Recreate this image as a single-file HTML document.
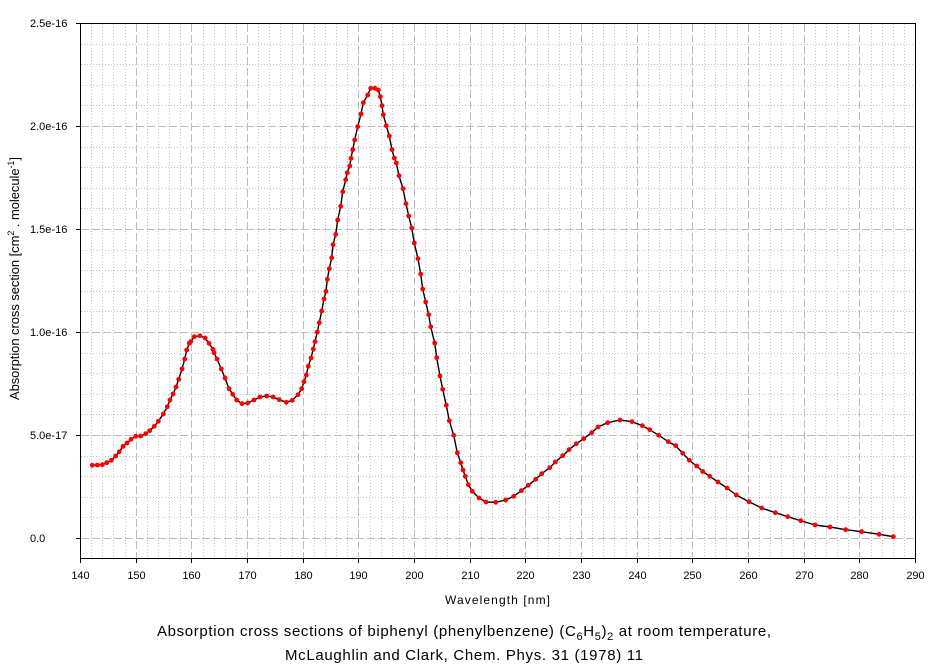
<!DOCTYPE html>
<html>
<head>
<meta charset="utf-8">
<style>
html,body{margin:0;padding:0;background:#fff;}
svg{display:block;}
text{font-family:"Liberation Sans",Arial,sans-serif;fill:#000;}
</style>
</head>
<body>
<svg width="939" height="665" viewBox="0 0 939 665" xmlns="http://www.w3.org/2000/svg">
<defs>
<marker id="dot" markerUnits="userSpaceOnUse" markerWidth="8" markerHeight="8" refX="4" refY="4">
<circle cx="4" cy="4" r="2.4" fill="#ff0000"/>
</marker>
</defs>
<rect width="939" height="665" fill="#fff"/>

<!-- minor grid -->
<g stroke="#c4c4c4" stroke-width="1" stroke-dasharray="1,2" fill="none" shape-rendering="crispEdges">
<path d="M91.5 24V558 M102.5 24V558 M113.5 24V558 M125.5 24V558 M147.5 24V558 M158.5 24V558 M169.5 24V558 M180.5 24V558 M203.5 24V558 M214.5 24V558 M225.5 24V558 M236.5 24V558 M258.5 24V558 M269.5 24V558 M280.5 24V558 M292.5 24V558 M314.5 24V558 M325.5 24V558 M336.5 24V558 M347.5 24V558 M370.5 24V558 M381.5 24V558 M392.5 24V558 M403.5 24V558 M425.5 24V558 M436.5 24V558 M447.5 24V558 M459.5 24V558 M481.5 24V558 M492.5 24V558 M503.5 24V558 M514.5 24V558 M537.5 24V558 M548.5 24V558 M559.5 24V558 M570.5 24V558 M592.5 24V558 M603.5 24V558 M614.5 24V558 M626.5 24V558 M648.5 24V558 M659.5 24V558 M670.5 24V558 M681.5 24V558 M704.5 24V558 M715.5 24V558 M726.5 24V558 M737.5 24V558 M759.5 24V558 M770.5 24V558 M781.5 24V558 M793.5 24V558 M815.5 24V558 M826.5 24V558 M837.5 24V558 M848.5 24V558 M871.5 24V558 M882.5 24V558 M893.5 24V558 M904.5 24V558"/>
<path d="M81 517.5H915 M81 497.5H915 M81 476.5H915 M81 456.5H915 M81 414.5H915 M81 394.5H915 M81 373.5H915 M81 353.5H915 M81 311.5H915 M81 291.5H915 M81 270.5H915 M81 250.5H915 M81 208.5H915 M81 188.5H915 M81 167.5H915 M81 147.5H915 M81 105.5H915 M81 85.5H915 M81 64.5H915 M81 44.5H915"/>
</g>
<!-- major grid -->
<g stroke="#bcbcbc" stroke-width="1" stroke-dasharray="8,3" fill="none" shape-rendering="crispEdges">
<path d="M136.5 24V558 M191.5 24V558 M247.5 24V558 M303.5 24V558 M358.5 24V558 M414.5 24V558 M470.5 24V558 M525.5 24V558 M581.5 24V558 M637.5 24V558 M692.5 24V558 M748.5 24V558 M804.5 24V558 M859.5 24V558"/>
<path d="M81 538.5H915 M81 435.5H915 M81 332.5H915 M81 229.5H915 M81 126.5H915"/>
</g>

<!-- axes box -->
<g stroke="#000" stroke-width="1" fill="none" shape-rendering="crispEdges">
<rect x="80.5" y="23.5" width="835" height="535"/>
<path d="M76 538.5H80 M76 435.5H80 M76 332.5H80 M76 229.5H80 M76 126.5H80 M76 23.5H80"/>
<path d="M80.5 559V563 M136.5 559V563 M191.5 559V563 M247.5 559V563 M303.5 559V563 M358.5 559V563 M414.5 559V563 M470.5 559V563 M525.5 559V563 M581.5 559V563 M637.5 559V563 M692.5 559V563 M748.5 559V563 M804.5 559V563 M859.5 559V563 M915.5 559V563"/>
</g>

<!-- y tick labels -->
<g font-size="11">
<text x="30" y="542">0.0</text>
<text x="30" y="439">5.0e-17</text>
<text x="30" y="336">1.0e-16</text>
<text x="30" y="233">1.5e-16</text>
<text x="30" y="130">2.0e-16</text>
<text x="30" y="27">2.5e-16</text>
</g>
<!-- x tick labels -->
<g font-size="11" text-anchor="middle">
<text x="80.5" y="579">140</text>
<text x="136.5" y="579">150</text>
<text x="191.5" y="579">160</text>
<text x="247.5" y="579">170</text>
<text x="303.5" y="579">180</text>
<text x="358.5" y="579">190</text>
<text x="414.5" y="579">200</text>
<text x="470.5" y="579">210</text>
<text x="525.5" y="579">220</text>
<text x="581.5" y="579">230</text>
<text x="637.5" y="579">240</text>
<text x="692.5" y="579">250</text>
<text x="748.5" y="579">260</text>
<text x="804.5" y="579">270</text>
<text x="859.5" y="579">280</text>
<text x="915.5" y="579">290</text>
</g>

<!-- axis titles -->
<text x="445" y="604" font-size="12" textLength="105" lengthAdjust="spacing">Wavelength [nm]</text>
<text transform="translate(19,400) rotate(-90)" x="0" y="0" font-size="13" textLength="243" lengthAdjust="spacing">Absorption cross section [cm<tspan font-size="9" dy="-5">2</tspan><tspan dy="5"> . molecule</tspan><tspan font-size="9" dy="-5">-1</tspan><tspan dy="5">]</tspan></text>

<!-- chart title -->
<text x="157" y="636" font-size="15" textLength="614" lengthAdjust="spacing">Absorption cross sections of biphenyl (phenylbenzene) (C<tspan font-size="11" dy="4">6</tspan><tspan dy="-4">H</tspan><tspan font-size="11" dy="4">5</tspan><tspan dy="-4">)</tspan><tspan font-size="11" dy="4">2</tspan><tspan dy="-4"> at room temperature,</tspan></text>
<text x="285" y="660" font-size="15" textLength="358" lengthAdjust="spacing">McLaughlin and Clark, Chem. Phys. 31 (1978) 11</text>

<!-- data series -->
<polyline fill="none" stroke="#000" stroke-width="1.4" stroke-linejoin="round"
marker-start="url(#dot)" marker-mid="url(#dot)" marker-end="url(#dot)"
points="92.3,465.3 97.3,465 102.3,464.7 106.7,462.7 111.3,460.3 115.7,456 119.3,451.7 123,446.3 127,443 131,439.3 135.7,436.3 140.7,436 145.7,433.7 149.7,430.7 154.3,426.3 158.3,421.3 163.3,414 167.3,406.7 170,400 173,394 176,387 178.7,379.3 182,369 184.7,359 186.7,350 189.3,343.3 190.7,341.7 194.3,336.7 200,335.7 205,338 209,343.3 213,349.3 214,352.7 217,359 221.3,369 225,378 229,388.7 232.7,394.3 236.7,400 242,403.7 247.7,403 254,400 260,397 266.7,396 273,397 279.3,399.7 286.3,402.3 292.3,400.3 298,394.7 301.7,388.7 304,381.7 306.3,375 308.3,366.3 311,358 313.3,349 315,341.7 317.3,332 319.3,322.7 321.7,311 324,299 326,291.3 327.3,279.3 329.3,268.7 331.7,257.7 333,244.7 335.7,234.3 337.7,220 340.7,206.3 342.7,191.7 345.7,179.7 347.3,172.7 349.7,166 351,158.3 352.7,149.7 354.7,140 357.7,126.7 361,114 363.3,102.7 367.7,95 370.7,88.3 375,88.3 378.3,90 380.3,96.7 382,105.7 383.3,114.7 386.3,125.7 389.3,136 392,149.7 394.3,158 396.3,163 399,175.7 403,188.7 406,203.7 408.7,216 411.7,228 414.3,243 418,258.7 420.7,274 422.7,289 425.7,302 428.7,314.7 430.7,326.7 434.7,343 436.7,357.7 440,376 442.7,389.3 446.3,405.3 449.3,420.7 453.7,435.3 457.3,452.7 460.7,462.7 463,470 465.3,476.3 468.3,484.7 472.3,491.3 479,498 486,502 495.7,502.3 505.7,500 513.7,496.3 521.3,490.7 528.3,485.3 535.7,479.3 541.7,473.7 549.7,467.7 555.3,462 562.7,455.7 569,449.7 576.3,443.7 583.7,438.7 591.7,432.7 598,427 607.7,422.7 620,420 632,421.7 642.3,425.7 649.7,429.7 658.7,435.3 668.3,441.7 675.7,445.7 682.7,453.3 689.3,460.3 696.7,466 702.7,471.5 709.7,476.3 718,482 727,488 736.3,495 749,501.7 761.7,508 775.3,512.7 787.7,516.7 800.7,520.7 815,525 830,527 845.7,529.7 861.7,531.7 879,534.3 893.3,536.7"/>
</svg>
</body>
</html>
